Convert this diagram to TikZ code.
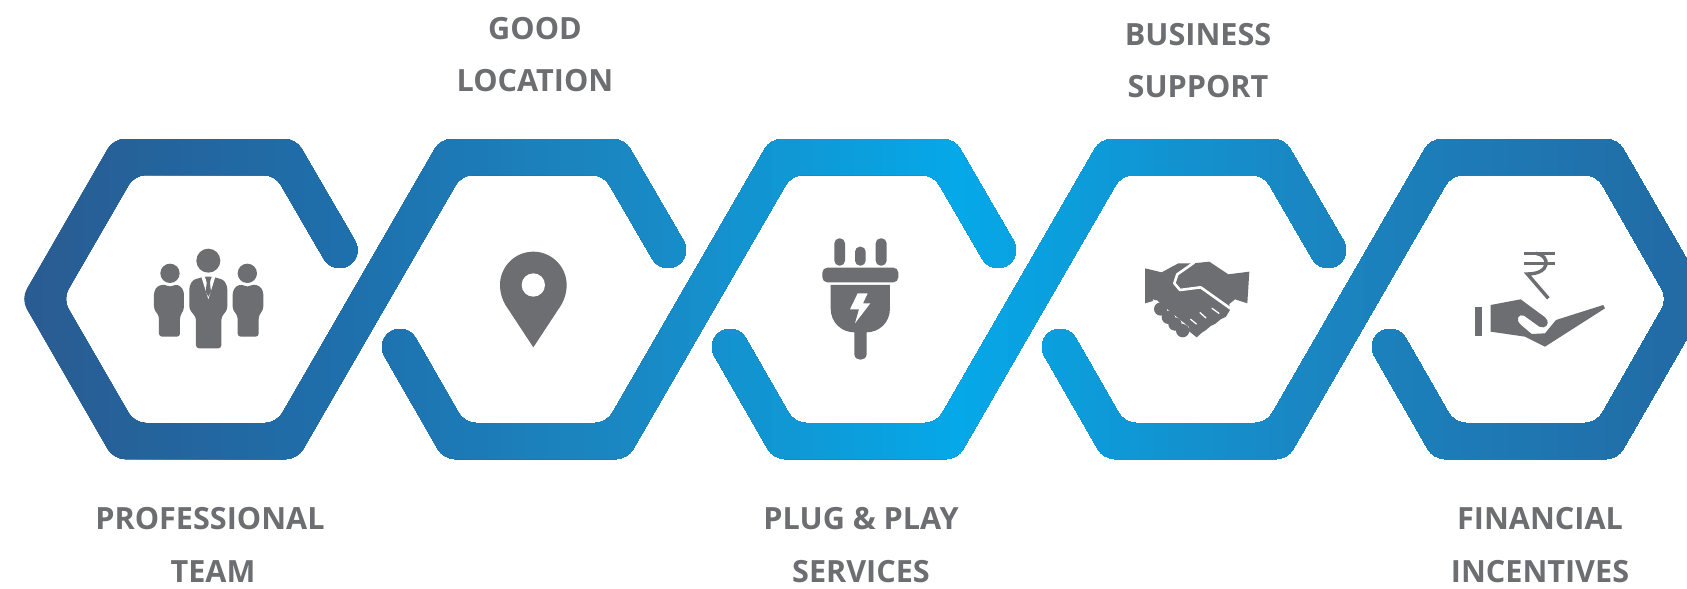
\documentclass[tikz,border=0pt]{standalone}
\usepackage{fontspec}
\setmainfont{Open Sans}
\definecolor{txtgrey}{HTML}{6D6E71}
\definecolor{icongrey}{HTML}{6D6E71}
\definecolor{bandA}{HTML}{2A5A90}
\definecolor{bandB}{HTML}{1E6FAB}
\definecolor{bandC}{HTML}{1A88C3}
\definecolor{bandD}{HTML}{05A8E8}
\definecolor{bandE}{HTML}{1A86C2}
\definecolor{bandF}{HTML}{226AA4}
\tikzset{
  lab/.style={anchor=base,font=\fontsize{30.6}{36}\selectfont\bfseries,text=txtgrey,inner sep=0pt},
  ink/.style={fill=icongrey,draw=none},
  gap/.style={fill=white,draw=none},
  cut/.style={draw=white,line join=round,line cap=round}
}
\newcommand\zpiece[2]{%
  \fill[#2,rounded corners=11pt] ({#1-118.4},338) -- ({#1-69.6},423) -- ({#1+72.6},423) -- ({#1+236.6},139) -- ({#1+420.4},139) -- ({#1+479.6},241) -- ({#1+448.4},259) -- ({#1+399.6},175) -- ({#1+257.4},175) -- ({#1+93.4},459) -- ({#1-90.4},459) -- ({#1-149.6},356) -- cycle;
  \draw[#2,line width=36pt,line cap=round] ({#1-134},347) -- ({#1-119},373);
  \draw[#2,line width=36pt,line cap=round] ({#1+464},250) -- ({#1+449},224);
}
\newcommand\bandshape[1]{%
  \fill[#1,rounded corners=11pt] (355.1,241) -- (295.9,139) -- (113.6,139) -- (21.2,299) -- (113.6,459) -- (297.4,459) -- (461.4,175) -- (603.6,175) -- (652.4,259) -- (683.6,241) -- (624.4,139) -- (440.6,139) -- (276.6,423) -- (134.4,423) -- (62.8,299) -- (134.4,175) -- (275.1,175) -- (323.9,259) -- cycle;
  \draw[#1,line width=36pt,line cap=round] (339.5,250) -- (324.5,224);
  \draw[#1,line width=36pt,line cap=round] (668,250) -- (653,224);
  \zpiece{534}{#1}
  \zpiece{864}{#1}
  \fill[#1,rounded corners=11pt] (1075.6,338) -- (1124.4,423) -- (1266.6,423) -- (1430.6,139) -- (1617.4,139) -- (1709.8,299) -- (1617.4,459) -- (1433.6,459) -- (1374.4,356) -- (1405.6,338) -- (1454.4,423) -- (1596.6,423) -- (1667.5,299) -- (1596.6,175) -- (1451.4,175) -- (1287.4,459) -- (1103.6,459) -- (1044.4,356) -- cycle;
  \draw[#1,line width=36pt,line cap=round] (1060,347) -- (1075,373);
  \draw[#1,line width=36pt,line cap=round] (1390,347) -- (1405,373);
}
\newcommand\bandramp[4]{%
  \foreach \k in {0,...,23}{%
    \pgfmathsetmacro\xx{#1+(#2-#1)*\k/24}
    \pgfmathsetmacro\pp{100*\k/24}
    \begin{scope}
      \clip (\xx,-10) rectangle (1700,600);
      \bandshape{#4!\pp!#3}
    \end{scope}
  }%
}
\begin{document}
\begin{tikzpicture}[x=1pt,y=-1pt]
\useasboundingbox (0,0) rectangle (1687,589);
\fill[white] (0,0) rectangle (1687,589);
% ribbon with a horizontal colour ramp
\bandramp{0}{330}{bandA}{bandB}
\bandramp{330}{620}{bandB}{bandC}
\bandramp{620}{950}{bandC}{bandD}
\bandramp{950}{1300}{bandD}{bandE}
\bandramp{1300}{1687}{bandE}{bandF}
% labels
\node[lab] (good) at (535,39) {GOOD};
\node[lab] (location) at (535,91) {LOCATION};
\node[lab] (business) at (1198,45) {BUSINESS};
\node[lab] (support) at (1198,97) {SUPPORT};
\node[lab] (prof) at (210,529) {PROFESSIONAL};
\node[lab] (team) at (213,582) {TEAM};
\node[lab] (plug) at (861,529) {PLUG \& PLAY};
\node[lab] (services) at (861,582) {SERVICES};
\node[lab] (fin) at (1540,529) {FINANCIAL};
\node[lab] (inc) at (1540,582) {INCENTIVES};
% people
\begin{scope}[shift={(130,230)},x=0.3333pt,y=-0.3333pt]
  \fill[ink] (235,92) circle (36);
  \fill[ink] (120,130) circle (29);
  \fill[ink] (352,130) circle (29);
  \fill[ink,rounded corners=3pt] (178,238) -- (178,170) -- (188,150) -- (222,140) -- (248,140) -- (282,150) -- (292,170) -- (292,238) -- (274,262) -- (274,355) -- (198,355) -- (198,262) -- cycle;
  \fill[gap] (214,140) -- (235,208) -- (256,140) -- (246,140) -- (235,165) -- (224,140) -- cycle;
  \fill[ink] (228,143) -- (242,143) -- (240,160) -- (243,185) -- (235,200) -- (227,185) -- (230,160) -- cycle;
  \fill[ink,rounded corners=3pt] (72,238) -- (72,185) -- (82,168) -- (105,163) -- (120,172) -- (135,163) -- (152,168) -- (162,185) -- (162,238) -- (150,258) -- (150,320) -- (87,320) -- (87,258) -- cycle;
  \fill[ink,rounded corners=3pt] (308,238) -- (308,185) -- (318,168) -- (337,163) -- (352,172) -- (367,163) -- (390,168) -- (400,185) -- (400,238) -- (386,258) -- (386,320) -- (323,320) -- (323,258) -- cycle;
\end{scope}
% pin
\begin{scope}[shift={(480,230)},x=0.3333pt,y=-0.3333pt]
  \fill[ink] (160,352) -- (85,238) .. controls (68,215) and (60,190) .. (60,165) .. controls (60,110) and (105,65) .. (160,65) .. controls (215,65) and (260,110) .. (260,165) .. controls (260,190) and (252,215) .. (235,238) -- cycle;
  \fill[gap] (160,165) circle (35);
\end{scope}
% plug
\begin{scope}[shift={(790,220)},x=0.3333pt,y=-0.3333pt]
  \fill[ink,rounded corners=5pt] (133,137) -- (133,55) -- (165,55) -- (165,137) -- cycle;
  \fill[ink,rounded corners=5pt] (195,137) -- (195,80) -- (227,80) -- (227,137) -- cycle;
  \fill[ink,rounded corners=5pt] (257,137) -- (257,55) -- (290,55) -- (290,137) -- cycle;
  \fill[ink,rounded corners=5pt] (97,143) -- (325,143) -- (325,187) -- (97,187) -- cycle;
  \fill[ink] (122,195) -- (300,195) -- (300,265) .. controls (300,310) and (265,337) .. (230,337) -- (230,402) .. controls (230,425) and (193,425) .. (193,402) -- (193,337) .. controls (157,337) and (122,310) .. (122,265) -- cycle;
  \fill[gap] (203,220) -- (233,220) -- (219,250) -- (241,250) -- (195,310) -- (207,268) -- (180,268) -- cycle;
\end{scope}
% handshake
\begin{scope}[shift={(1120,240)},x=0.3333pt,y=-0.3333pt]
  \fill[ink] (75,85) -- (125,97) -- (175,70) -- (218,70) -- (268,65) -- (325,103) -- (388,95) -- (382,190) -- (345,178) -- (328,192) -- (330,210) -- (318,230) -- (302,238) -- (285,252) -- (272,258) -- (258,270) -- (247,277) -- (230,292) -- (205,272) -- (175,235) -- (110,180) -- (75,190) -- cycle;
  \draw[cut,line width=2.6pt] (222,68) -- (172,103) -- (163,130) -- (180,150) -- (242,142) -- (332,206);
  \draw[cut,line width=1.3pt] (297,220) -- (276,205);
  \draw[cut,line width=1.3pt] (258,234) -- (240,218);
  \draw[cut,line width=1.3pt] (229,252) -- (212,238);
  \draw[cut,line width=1.3pt] (100,180) -- (155,222) -- (205,262);
  \fill[ink] (122,207) circle (20);
  \fill[ink] (145,232) circle (20);
  \fill[ink] (165,252) circle (20);
  \fill[ink] (188,272) circle (20);
\end{scope}
% rupee and hand
\begin{scope}[shift={(1450,230)},x=0.3333pt,y=-0.3333pt]
  \fill[ink] (75,232) rectangle (95,318);
  \fill[ink] (122,225) -- (212,208) -- (285,262) .. controls (298,272) and (295,290) .. (280,292) -- (268,290) -- (222,257) .. controls (205,250) and (195,270) .. (213,285) -- (245,312) -- (285,310) -- (318,270) -- (460,225) -- (465,235) -- (285,350) -- (225,320) -- (122,305) -- cycle;
  \draw[icongrey,line width=3.2pt] (222,70) -- (315,70);
  \draw[icongrey,line width=3.2pt] (222,100) -- (315,100);
  \draw[icongrey,line width=3.4pt] (258,70) .. controls (300,75) and (305,132) .. (232,132) -- (295,205);
\end{scope}
\end{tikzpicture}
\end{document}
